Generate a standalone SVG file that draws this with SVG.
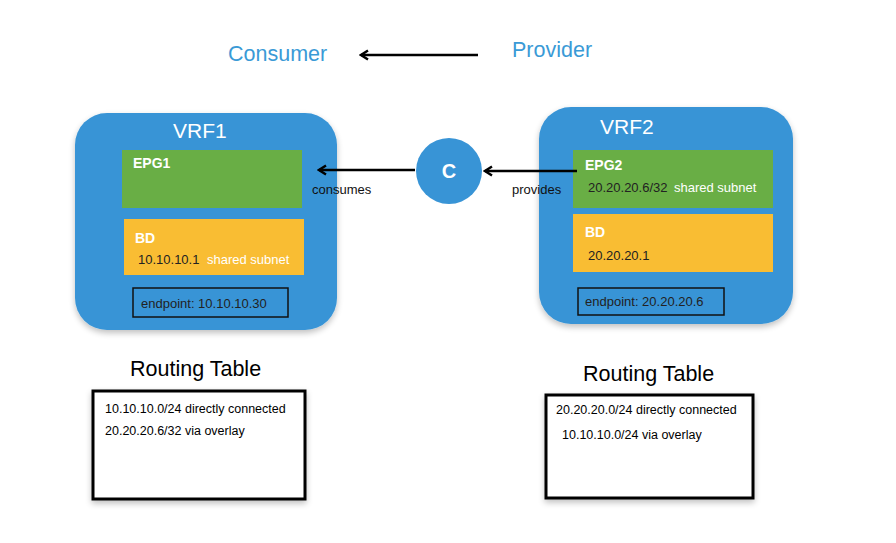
<svg xmlns="http://www.w3.org/2000/svg" width="896" height="543" viewBox="0 0 896 543">
<defs>
<marker id="ah" viewBox="0 0 12 12" refX="10" refY="6" markerWidth="12" markerHeight="12" markerUnits="userSpaceOnUse" orient="auto">
<path d="M3,1.5 L10,6 L3,10.5" fill="none" stroke="#000" stroke-width="2.4" stroke-linejoin="miter"/>
</marker>
<filter id="sh" x="-10%" y="-10%" width="120%" height="125%">
<feGaussianBlur in="SourceAlpha" stdDeviation="3"/>
<feOffset dx="0" dy="3"/>
<feComponentTransfer><feFuncA type="linear" slope="0.25"/></feComponentTransfer>
<feMerge><feMergeNode/><feMergeNode in="SourceGraphic"/></feMerge>
</filter>
</defs>
<style>
text{font-family:"Liberation Sans",Arial,sans-serif;}
.vrf{fill:#3894d6;filter:url(#sh);}
.epg{fill:#69ae45;}
.bd{fill:#f9bd33;}
.ep{fill:none;stroke:#111;stroke-width:1.5;}
.rt{fill:#fff;stroke:#000;stroke-width:3;filter:url(#sh);}
.title{fill:#fff;font-size:21px;}
.hdr{fill:#fff;font-size:14px;font-weight:bold;}
.dk{fill:#222;font-size:13px;}
.wt{fill:#fff;font-size:13px;}
.lbl{fill:#111;font-size:13px;}
.rtt{fill:#000;font-size:21.5px;}
.rtl{fill:#000;font-size:12.5px;}
.top{fill:#3a9ad6;font-size:21.5px;}
.con{stroke:#000;stroke-width:2.4;fill:none;}
</style>
<g id="legend">
<text class="top" x="228" y="61">Consumer</text>
<text class="top" x="512" y="57">Provider</text>
</g>
<g id="vrf1">
<rect class="vrf" x="75" y="113" width="262" height="217" rx="32"/>
<text class="title" x="173" y="138">VRF1</text>
</g>
<g id="epg1">
<rect class="epg" x="122" y="150" width="180" height="58"/>
<text class="hdr" x="133" y="168">EPG1</text>
</g>
<g id="bd1">
<rect class="bd" x="124" y="219" width="180" height="56"/>
<text class="hdr" x="135" y="243">BD</text>
<text class="dk" x="138" y="264">10.10.10.1</text>
<text class="wt" x="207" y="264">shared subnet</text>
</g>
<g id="ep1">
<rect class="ep" x="133" y="288" width="155" height="29"/>
<text class="dk" x="141" y="308">endpoint: 10.10.10.30</text>
</g>
<g id="vrf2">
<rect class="vrf" x="539" y="107" width="254" height="217" rx="32"/>
<text class="title" x="600" y="134">VRF2</text>
</g>
<g id="epg2">
<rect class="epg" x="573" y="150" width="200" height="58"/>
<text class="hdr" x="585" y="170">EPG2</text>
<text class="dk" x="588" y="192">20.20.20.6/32</text>
<text class="wt" x="674" y="192">shared subnet</text>
</g>
<g id="bd2">
<rect class="bd" x="573" y="214" width="200" height="58"/>
<text class="hdr" x="585" y="237">BD</text>
<text class="dk" x="588" y="260">20.20.20.1</text>
</g>
<g id="ep2">
<rect class="ep" x="578" y="288" width="146" height="27"/>
<text class="dk" x="585" y="306">endpoint: 20.20.20.6</text>
</g>
<g id="contract">
<circle cx="449" cy="171" r="33" fill="#3894d6"/>
<text x="449" y="178" text-anchor="middle" fill="#fff" font-size="20" font-weight="bold">C</text>
</g>
<g id="rt1">
<text class="rtt" x="130" y="376">Routing Table</text>
<rect class="rt" x="93" y="391" width="212" height="108"/>
<text class="rtl" x="105" y="413">10.10.10.0/24 directly connected</text>
<text class="rtl" x="105" y="435">20.20.20.6/32 via overlay</text>
</g>
<g id="rt2">
<text class="rtt" x="583" y="381">Routing Table</text>
<rect class="rt" x="546" y="395" width="207" height="103"/>
<text class="rtl" x="556" y="414">20.20.20.0/24 directly connected</text>
<text class="rtl" x="562" y="439">10.10.10.0/24 via overlay</text>
</g>
<g id="connectors">
<line class="con" x1="478" y1="55" x2="361" y2="55" marker-end="url(#ah)"/>
<line class="con" x1="415" y1="170" x2="319" y2="170" marker-end="url(#ah)"/>
<line class="con" x1="577" y1="171" x2="485" y2="171" marker-end="url(#ah)"/>
<text class="lbl" x="312" y="194">consumes</text>
<text class="lbl" x="512" y="194">provides</text>
</g>
</svg>
